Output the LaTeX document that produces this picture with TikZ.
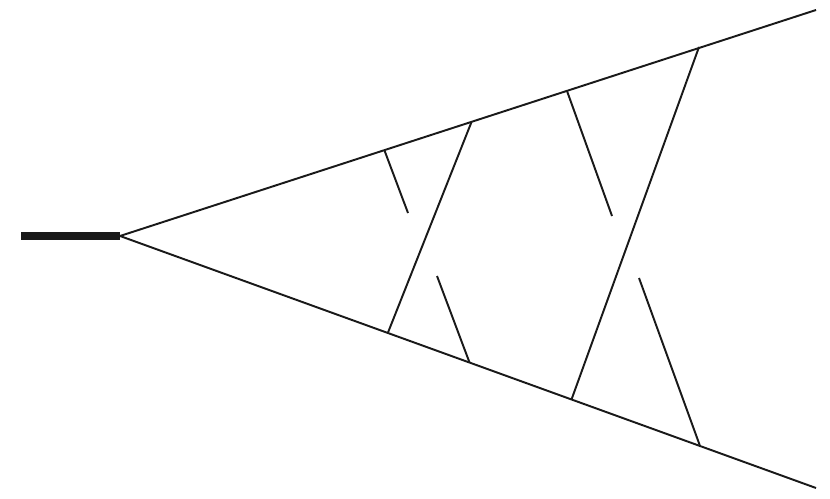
\documentclass[tikz,border=0pt]{standalone}
\usepackage{tikz}
\tikzset{
  >=latex,
}
\tikzstyle{strand}=[line width=1.1pt,black!90]
\tikzstyle{lead}=[line width=4.6pt,black!90]

\begin{document}
\begin{tikzpicture}[x=0.02cm,y=-0.02cm]
    \useasboundingbox (0,0) rectangle (830,499);
    % ends
    \coordinate (tail) at (21,236);
    \coordinate (apex) at (120,236);
    \coordinate (topend) at (816,10);
    \coordinate (botend) at (816,488);
    % first crossing
    \coordinate (a1) at (471.5,122);
    \coordinate (a2) at (388,332.5);
    \coordinate (b1) at (384.5,150.5);
    \coordinate (b2) at (408,213);
    \coordinate (c1) at (437,276);
    \coordinate (c2) at (469.5,362.5);
    % second crossing
    \coordinate (d1) at (699,47);
    \coordinate (d2) at (571.5,399.5);
    \coordinate (e1) at (567,91);
    \coordinate (e2) at (612,216);
    \coordinate (f1) at (639,278);
    \coordinate (f2) at (700,446);
    \draw[lead] (tail)--(apex);
    \draw[strand] (topend)--(apex)--(botend);
    \draw[strand] (a1)--(a2);
    \draw[strand] (b1)--(b2);
    \draw[strand] (c1)--(c2);
    \draw[strand] (d1)--(d2);
    \draw[strand] (e1)--(e2);
    \draw[strand] (f1)--(f2);
\end{tikzpicture}
\end{document}
